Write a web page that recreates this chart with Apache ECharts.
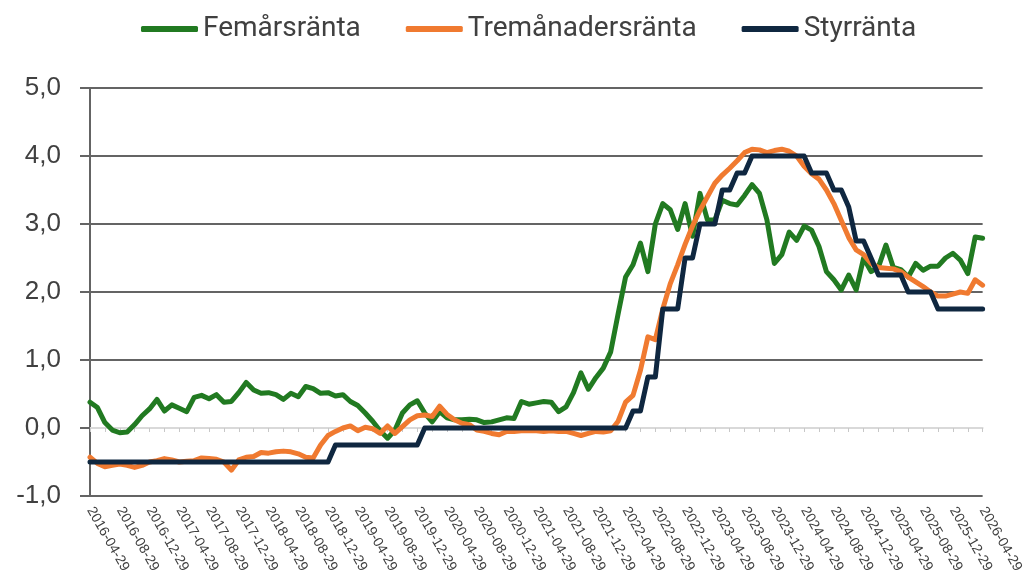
<!DOCTYPE html>
<html>
<head>
<meta charset="utf-8">
<title>Räntor</title>
<script src="https://cdn.jsdelivr.net/npm/echarts@6/dist/echarts.min.js"></script>
<style>
  html, body { margin: 0; padding: 0; background: #fff; }
  #chart { width: 1026px; height: 577px; }
</style>
</head>
<body>
<div id="chart"></div>
<script>
// månadsdatum 2016-04-29 .. 2026-04-29
const dates = []
for (let y = 2016, m = 4; y < 2026 || (y === 2026 && m <= 4); m++) {
  if (m > 12) { m = 1; y++ }
  if (y === 2026 && m > 4) break
  dates.push(y + '-' + String(m).padStart(2, '0') + '-29')
}

const yTicks = [-1, 0, 1, 2, 3, 4, 5]

// Femårsränta
const femar = [
  0.38, 0.30, 0.08, -0.03, -0.07, -0.06, 0.05, 0.18, 0.28, 0.42,
  0.25, 0.34, 0.29, 0.24, 0.45, 0.48, 0.43, 0.49, 0.38, 0.39,
  0.52, 0.67, 0.56, 0.51, 0.52, 0.49, 0.42, 0.51, 0.46, 0.61,
  0.58, 0.51, 0.52, 0.47, 0.49, 0.39, 0.33, 0.22, 0.10, -0.04,
  -0.15, -0.03, 0.22, 0.34, 0.40, 0.22, 0.09, 0.24, 0.15, 0.12,
  0.12, 0.13, 0.12, 0.08, 0.09, 0.12, 0.15, 0.14, 0.39, 0.35,
  0.37, 0.39, 0.38, 0.24, 0.31, 0.52, 0.81, 0.57, 0.74, 0.88,
  1.12, 1.68, 2.22, 2.40, 2.72, 2.30, 3.00, 3.30, 3.21, 2.92,
  3.30, 2.82, 3.45, 3.06, 3.06, 3.35, 3.30, 3.28, 3.42, 3.58,
  3.45, 3.06, 2.42, 2.55, 2.88, 2.76, 2.97, 2.91, 2.67, 2.30,
  2.18, 2.03, 2.25, 2.03, 2.50, 2.30, 2.37, 2.69, 2.36, 2.33,
  2.22, 2.42, 2.32, 2.38, 2.38, 2.50, 2.57, 2.47, 2.27, 2.81,
  2.79
]

// Tremånadersränta
const tremanad = [
  -0.43, -0.52, -0.57, -0.55, -0.53, -0.55, -0.58, -0.55, -0.50, -0.48,
  -0.45, -0.47, -0.50, -0.49, -0.48, -0.44, -0.45, -0.46, -0.50, -0.62,
  -0.47, -0.43, -0.42, -0.36, -0.37, -0.35, -0.34, -0.35, -0.38, -0.43,
  -0.44, -0.25, -0.11, -0.05, 0.00, 0.03, -0.04, 0.01, -0.01, -0.08,
  0.03, -0.08, 0.02, 0.12, 0.18, 0.19, 0.17, 0.32, 0.20, 0.12,
  0.07, 0.05, -0.03, -0.05, -0.08, -0.10, -0.05, -0.05, -0.04, -0.04,
  -0.04, -0.05, -0.04, -0.05, -0.05, -0.08, -0.11, -0.08, -0.05, -0.06,
  -0.04, 0.10, 0.38, 0.48, 0.85, 1.34, 1.30, 1.75, 2.12, 2.40,
  2.70, 2.97, 3.20, 3.40, 3.60, 3.72, 3.82, 3.93, 4.05, 4.10,
  4.09, 4.05, 4.08, 4.10, 4.07, 4.00, 3.85, 3.74, 3.66, 3.50,
  3.30, 3.05, 2.80, 2.62, 2.55, 2.42, 2.36, 2.35, 2.34, 2.30,
  2.22, 2.15, 2.08, 2.00, 1.94, 1.94, 1.97, 2.00, 1.98, 2.18,
  2.10
]

// Styrränta
const styr = [
  -0.50, -0.50, -0.50, -0.50, -0.50, -0.50, -0.50, -0.50, -0.50, -0.50,
  -0.50, -0.50, -0.50, -0.50, -0.50, -0.50, -0.50, -0.50, -0.50, -0.50,
  -0.50, -0.50, -0.50, -0.50, -0.50, -0.50, -0.50, -0.50, -0.50, -0.50,
  -0.50, -0.50, -0.50, -0.25, -0.25, -0.25, -0.25, -0.25, -0.25, -0.25,
  -0.25, -0.25, -0.25, -0.25, -0.25, 0.00, 0.00, 0.00, 0.00, 0.00,
  0.00, 0.00, 0.00, 0.00, 0.00, 0.00, 0.00, 0.00, 0.00, 0.00,
  0.00, 0.00, 0.00, 0.00, 0.00, 0.00, 0.00, 0.00, 0.00, 0.00,
  0.00, 0.00, 0.00, 0.25, 0.25, 0.75, 0.75, 1.75, 1.75, 1.75,
  2.50, 2.50, 3.00, 3.00, 3.00, 3.50, 3.50, 3.75, 3.75, 4.00,
  4.00, 4.00, 4.00, 4.00, 4.00, 4.00, 4.00, 3.75, 3.75, 3.75,
  3.50, 3.50, 3.25, 2.75, 2.75, 2.50, 2.25, 2.25, 2.25, 2.25,
  2.00, 2.00, 2.00, 2.00, 1.75, 1.75, 1.75, 1.75, 1.75, 1.75,
  1.75
]

const chart = echarts.init(document.getElementById('chart'))

const lineSeries = (name, data, color) => ({
  name: name,
  type: 'line',
  data: data,
  xAxisIndex: 0,
  showSymbol: false,
  symbol: 'none',
  lineStyle: { color: color, width: 5, join: 'round', cap: 'round' },
  itemStyle: { color: color }
})

const gridGray = '#646464'

chart.setOption({
  animation: false,
  backgroundColor: '#fff',
  grid: { left: 90, right: 41, top: 88, bottom: 81 },
  legend: {
    top: 10,
    left: 136,
    icon: 'roundRect',
    itemWidth: 57,
    itemHeight: 6,
    itemGap: 45,
    textStyle: { fontFamily: 'Roboto, sans-serif', fontSize: 28, color: '#404040' },
    data: ['Femårsränta', 'Tremånadersränta', 'Styrränta']
  },
  xAxis: [
    {
      type: 'category',
      data: dates,
      boundaryGap: false,
      axisLine: { show: false, onZero: false },
      axisTick: { show: false },
      axisLabel: {
        interval: 3,
        rotate: -60,
        margin: 12,
        fontSize: 14,
        color: '#404040',
        fontFamily: 'Liberation Sans, Arial, sans-serif'
      }
    },
    {
      type: 'category',
      data: dates,
      boundaryGap: false,
      position: 'bottom',
      axisLine: { show: true, onZero: true, lineStyle: { color: '#d9d9d9', width: 2 } },
      axisTick: { show: true, interval: 1, length: 4, lineStyle: { color: '#c8c8c8', width: 1 } },
      axisLabel: { show: false }
    }
  ],
  yAxis: {
    type: 'value',
    min: -1,
    max: 5,
    interval: 1,
    axisLine: { show: true, lineStyle: { color: gridGray, width: 2 } },
    axisTick: { show: true, length: 10, lineStyle: { color: gridGray, width: 2 } },
    axisLabel: {
      margin: 29,
      fontSize: 26,
      color: '#404040',
      fontFamily: 'Liberation Sans, Arial, sans-serif',
      formatter: v => yTicks.includes(v) ? v.toFixed(1).replace('.', ',') : ''
    },
    splitLine: {
      show: true,
      lineStyle: { color: [gridGray, '#d9d9d9', gridGray, gridGray, gridGray, gridGray, gridGray], width: 2 }
    }
  },
  series: [
    lineSeries('Femårsränta', femar, '#217a21'),
    lineSeries('Tremånadersränta', tremanad, '#f07a30'),
    lineSeries('Styrränta', styr, '#0f2740')
  ]
})
</script>
</body>
</html>
